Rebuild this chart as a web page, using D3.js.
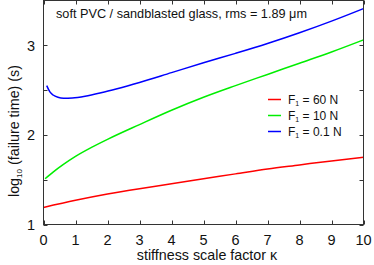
<!DOCTYPE html>
<html>
<head>
<meta charset="utf-8">
<script src="https://cdn.jsdelivr.net/npm/d3@7"></script>
<style>
  body { margin: 0; background: #fff; }
  svg { display: block; font-family: "Liberation Sans", Arial, sans-serif; }
</style>
</head>
<body>
<div id="chart"></div>
<script>
// stiffness scale factor kappa and log10(failure time) per load
var kappa60 = [0, 1, 2, 3, 4, 5, 6, 7, 8, 9, 10];
var f60 = [1.19, 1.27, 1.34, 1.40, 1.455, 1.51, 1.565, 1.62, 1.665, 1.71, 1.75];

var kappa10 = [0.05, 0.3, 0.6, 1, 1.5, 2, 3, 4, 5, 6, 7, 8, 9, 10];
var f10 = [1.51, 1.585, 1.665, 1.76, 1.86, 1.95, 2.115, 2.275, 2.42, 2.55, 2.675, 2.80, 2.925, 3.06];

var kappa01 = [0.1, 0.2, 0.3, 0.45, 0.63, 0.9, 1.3, 1.8, 2.3, 3, 4, 5, 6, 7, 8, 9, 10];
var f01 = [2.55, 2.48, 2.445, 2.42, 2.41, 2.413, 2.432, 2.47, 2.515, 2.585, 2.695, 2.805, 2.91, 3.02, 3.14, 3.27, 3.41];

var xTicks = [0, 1, 2, 3, 4, 5, 6, 7, 8, 9, 10];
var yTicks = [1, 1.5, 2, 2.5, 3];
var yLabels = [1, 2, 3];

var series = [
  { load: "60 N", color: "#ff0000", k: kappa60, v: f60 },
  { load: "10 N", color: "#00ee00", k: kappa10, v: f10 },
  { load: "0.1 N", color: "#0000ff", k: kappa01, v: f01 }
];

var W = 374, H = 265;
var plotL = 43.5, plotR = 363.5, plotT = 0.5, plotB = 224.5;

var svg = d3.select("#chart").append("svg").attr("width", W).attr("height", H);

var x = d3.scaleLinear().domain([0, 10]).range([plotL, plotR]);
var y = d3.scaleLinear().domain([1, 3.5]).range([plotB, plotT]);

var tl = 4;
var axisColor = "#333";

// ticks on all four sides (pointing inward)
var tk = svg.append("g").attr("stroke", axisColor).attr("stroke-width", 1);
xTicks.forEach(function (t) {
  var px = Math.round(x(t)) + 0.5;
  tk.append("line").attr("x1", px).attr("x2", px).attr("y1", plotB).attr("y2", plotB - tl);
  tk.append("line").attr("x1", px).attr("x2", px).attr("y1", plotT).attr("y2", plotT + tl);
});
yTicks.forEach(function (t) {
  var py = Math.round(y(t)) + 0.5;
  tk.append("line").attr("x1", plotL).attr("x2", plotL + tl).attr("y1", py).attr("y2", py);
  tk.append("line").attr("x1", plotR).attr("x2", plotR - tl).attr("y1", py).attr("y2", py);
});

// tick labels
svg.append("g").selectAll("text").data(xTicks).join("text")
  .attr("x", function (d) { return x(d); })
  .attr("y", 245)
  .attr("text-anchor", "middle")
  .attr("font-size", 14.5)
  .attr("fill", "#111")
  .text(function (d) { return d; });

svg.append("g").selectAll("text").data(yLabels).join("text")
  .attr("x", 35)
  .attr("y", function (d) { return y(d) + 5.5; })
  .attr("text-anchor", "end")
  .attr("font-size", 14.5)
  .attr("fill", "#111")
  .text(function (d) { return d; });

// curves
var line = d3.line().curve(d3.curveMonotoneX);
series.forEach(function (s) {
  var pts = s.k.map(function (k, i) { return [x(k), y(s.v[i])]; });
  svg.append("path")
    .attr("d", line(pts))
    .attr("fill", "none")
    .attr("stroke", s.color)
    .attr("stroke-width", 1.5);
});

// frame
svg.append("rect")
  .attr("x", plotL).attr("y", plotT)
  .attr("width", plotR - plotL).attr("height", plotB - plotT)
  .attr("fill", "none").attr("stroke", axisColor).attr("stroke-width", 1);

// annotation
svg.append("text")
  .attr("x", 56).attr("y", 18)
  .attr("font-size", 12.7)
  .attr("fill", "#111")
  .text("soft PVC / sandblasted glass, rms = 1.89 \u03bcm");

// legend
var lg = svg.append("g");
series.forEach(function (s, i) {
  var ly = 99.5 + i * 16;
  lg.append("line")
    .attr("x1", 268).attr("x2", 281).attr("y1", ly).attr("y2", ly)
    .attr("stroke", s.color).attr("stroke-width", 1.5);
  var t = lg.append("text").attr("x", 288).attr("y", ly + 4.5)
    .attr("font-size", 12).attr("fill", "#111");
  t.append("tspan").text("F");
  t.append("tspan").attr("font-size", 7).attr("dy", 2).text("1");
  t.append("tspan").attr("dy", -2).text(" = " + s.load);
});

// axis titles
svg.append("text")
  .attr("x", 207).attr("y", 260)
  .attr("text-anchor", "middle")
  .attr("font-size", 14.3)
  .attr("fill", "#111")
  .text("stiffness scale factor \u03ba");

var yt = svg.append("text")
  .attr("transform", "translate(19,131) rotate(-90)")
  .attr("text-anchor", "middle")
  .attr("font-size", 14.3)
  .attr("fill", "#111");
yt.append("tspan").text("log");
yt.append("tspan").attr("font-size", 8).attr("dy", 3).text("10");
yt.append("tspan").attr("dy", -3).text(" (failure time)  (s)");
</script>
</body>
</html>
